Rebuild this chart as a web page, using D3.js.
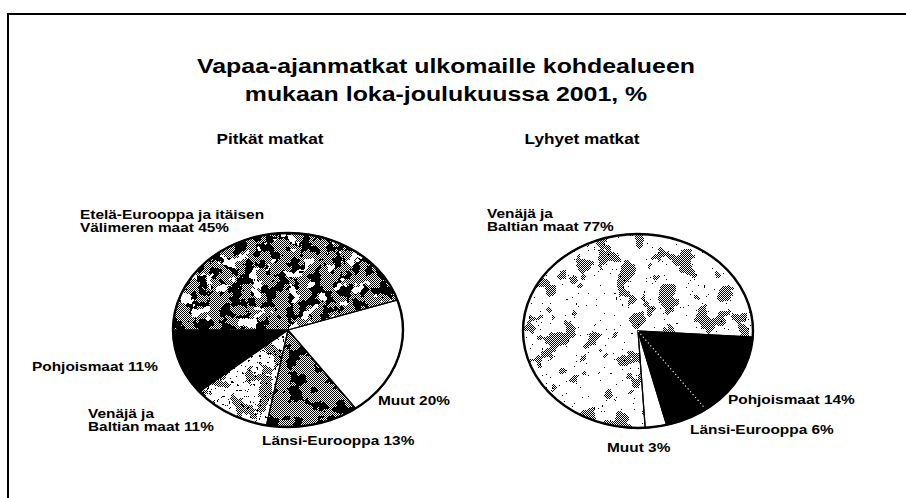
<!DOCTYPE html>
<html lang="fi">
<head>
<meta charset="UTF-8">
<title>Vapaa-ajanmatkat ulkomaille kohdealueen</title>
<script src="https://cdnjs.cloudflare.com/ajax/libs/d3/7.8.5/d3.min.js"></script>
<style>
  html, body { margin: 0; padding: 0; background: #fff; }
  svg { display: block; }
  text { font-family: "Liberation Sans", Arial, sans-serif; font-weight: bold; fill: #000; }
</style>
</head>
<body>
<div id="chart"></div>
<script>
const titleLines = ["Vapaa-ajanmatkat ulkomaille kohdealueen", "mukaan loka-joulukuussa 2001, %"];
const pieTitles = ["Pitkät matkat", "Lyhyet matkat"];

// pitkät matkat, clockwise from 9 o'clock
const longCategories = ["Etelä-Eurooppa ja itäisen\nVälimeren maat", "Muut", "Länsi-Eurooppa", "Venäjä ja\nBaltian maat", "Pohjoismaat"];
const longValues = [45, 20, 13, 11, 11];

// lyhyet matkat, clockwise from just below 3 o'clock
const shortCategories = ["Pohjoismaat", "Länsi-Eurooppa", "Muut", "Venäjä ja\nBaltian maat"];
const shortValues = [14, 6, 3, 77];

const W = 906, H = 498;
const SX = 1.186;          // the scan is stretched horizontally
const vx = x => x / SX;    // screen x -> x inside the stretched text group

const svg = d3.select("#chart").append("svg")
    .attr("width", W)
    .attr("height", H);

const defs = svg.append("defs");

// 50% halftone dots
const dots = defs.append("pattern")
    .attr("id", "dots")
    .attr("patternUnits", "userSpaceOnUse")
    .attr("width", 2).attr("height", 2);
dots.append("rect").attr("width", 2).attr("height", 2).attr("fill", "#fff");
dots.append("rect").attr("width", 1).attr("height", 1).attr("fill", "#000");
dots.append("rect").attr("x", 1).attr("y", 1).attr("width", 1).attr("height", 1).attr("fill", "#000");

// blotchy masks to imitate the scanned textures (pie-local coords)
const MB = { x: -125, y: -105, w: 250, h: 210 };
function noiseMask(id, freq, seed, cut) {
    const f = defs.append("filter")
        .attr("id", "f-" + id)
        .attr("filterUnits", "userSpaceOnUse")
        .attr("x", MB.x).attr("y", MB.y).attr("width", MB.w).attr("height", MB.h)
        .attr("color-interpolation-filters", "sRGB");
    f.append("feTurbulence")
        .attr("type", "fractalNoise")
        .attr("baseFrequency", freq)
        .attr("numOctaves", 3)
        .attr("seed", seed);
    f.append("feColorMatrix")
        .attr("type", "matrix")
        .attr("values", "1 0 0 0 0  1 0 0 0 0  1 0 0 0 0  0 0 0 0 1");
    const steps = d3.range(50).map(i => (i / 50 >= cut ? 1 : 0)).join(" ");
    const ct = f.append("feComponentTransfer");
    ["feFuncR", "feFuncG", "feFuncB"].forEach(n =>
        ct.append(n).attr("type", "discrete").attr("tableValues", steps));
    defs.append("mask")
        .attr("id", id)
        .attr("maskUnits", "userSpaceOnUse")
        .attr("x", MB.x).attr("y", MB.y).attr("width", MB.w).attr("height", MB.h)
        .append("rect")
        .attr("x", MB.x).attr("y", MB.y).attr("width", MB.w).attr("height", MB.h)
        .attr("filter", `url(#f-${id})`);
}
noiseMask("blobA", 0.09, 3, 0.54);
noiseMask("blobB", 0.08, 11, 0.64);
noiseMask("blobC", 0.07, 7, 0.56);
noiseMask("blobD", 0.07, 5, 0.55);
noiseMask("blobE", 0.05, 9, 0.58);
noiseMask("speck", 0.35, 2, 0.7);
noiseMask("speck2", 0.5, 4, 0.74);

const textures = {
    white:   [{ fill: "#fff" }],
    black:   [{ fill: "#000" }],
    mottled: [{ fill: "url(#dots)" }, { fill: "#000", mask: "blobA" }, { fill: "#fff", mask: "blobB" }],
    gray:    [{ fill: "url(#dots)" }, { fill: "#000", mask: "blobC" }],
    speckle: [{ fill: "#fff" }, { fill: "url(#dots)", mask: "blobD" }, { fill: "#000", mask: "speck" }],
    light:   [{ fill: "#fff" }, { fill: "url(#dots)", mask: "blobE" }, { fill: "#000", mask: "speck2" }]
};

// frame
svg.append("path")
    .attr("d", `M${W + 10},14 H8 V${H + 10}`)
    .attr("fill", "none")
    .attr("stroke", "#000")
    .attr("stroke-width", 2);

const pies = svg.append("g");
const g = svg.append("g").attr("transform", `scale(${SX},1)`);

g.selectAll(".title")
    .data(titleLines)
    .join("text")
    .attr("class", "title")
    .attr("x", vx(446))
    .attr("y", (d, i) => 73 + i * 28)
    .attr("text-anchor", "middle")
    .style("font-size", "21px")
    .text(d => d);

g.selectAll(".pie-title")
    .data(pieTitles)
    .join("text")
    .attr("class", "pie-title")
    .attr("x", (d, i) => vx([270, 582][i]))
    .attr("y", 144)
    .attr("text-anchor", "middle")
    .style("font-size", "14.5px")
    .text(d => d);

// elliptical slice from pie angles
function slicePath(a, rx, ry) {
    const p = t => [rx * Math.sin(t), -ry * Math.cos(t)];
    const [x0, y0] = p(a.startAngle), [x1, y1] = p(a.endAngle);
    const large = a.endAngle - a.startAngle > Math.PI ? 1 : 0;
    return `M0,0L${x0},${y0}A${rx},${ry} 0 ${large} 1 ${x1},${y1}Z`;
}

function drawPie(opts) {
    const { cx, cy, rx, ry, cats, vals, start, tex, labelPos, divider } = opts;
    const data = cats.map((c, i) => ({ cat: c, value: vals[i], tex: tex[i], pos: labelPos[i] }));
    const pie = d3.pie().sort(null).value(d => d.value)
        .startAngle(start).endAngle(start + 2 * Math.PI);
    const arcs = pie(data);

    const pg = pies.append("g").attr("transform", `translate(${cx},${cy})`);

    arcs.forEach(a => {
        textures[a.data.tex].forEach(layer => {
            pg.append("path")
                .attr("d", slicePath(a, rx, ry))
                .attr("fill", layer.fill)
                .attr("mask", layer.mask ? `url(#${layer.mask})` : null);
        });
    });

    pg.selectAll(".slice")
        .data(arcs)
        .join("path")
        .attr("class", "slice")
        .attr("d", a => slicePath(a, rx, ry))
        .attr("fill", "none")
        .attr("stroke", "#000")
        .attr("stroke-width", 1.2);

    if (divider != null) {
        const ang = arcs[divider].endAngle;
        pg.append("line")
            .attr("x1", 0).attr("y1", 0)
            .attr("x2", Math.sin(ang) * (rx - 3))
            .attr("y2", -Math.cos(ang) * (ry - 3))
            .attr("stroke", "#fff")
            .attr("stroke-width", 1.1)
            .attr("stroke-dasharray", "1.2 2.6");
    }

    pg.append("ellipse")
        .attr("rx", rx).attr("ry", ry)
        .attr("fill", "none")
        .attr("stroke", "#000")
        .attr("stroke-width", 2.4);

    data.forEach(d => {
        const lines = d.cat.split("\n");
        lines[lines.length - 1] += " " + d.value + "%";
        const t = g.append("text")
            .attr("x", vx(d.pos[0]))
            .attr("y", d.pos[1])
            .style("font-size", "13px");
        lines.forEach((l, i) => {
            t.append("tspan")
                .attr("x", vx(d.pos[0]))
                .attr("dy", i === 0 ? 0 : 13.5)
                .text(l);
        });
    });
}

drawPie({
    cx: 288, cy: 330, rx: 115, ry: 97,
    cats: longCategories, vals: longValues,
    start: -Math.PI / 2,
    tex: ["mottled", "white", "gray", "speckle", "black"],
    labelPos: [[80, 219], [378, 405], [262, 445], [88, 418], [32, 371]]
});

drawPie({
    cx: 638, cy: 331, rx: 115, ry: 97,
    cats: shortCategories, vals: shortValues,
    start: 93.6 * Math.PI / 180,
    tex: ["black", "black", "white", "light"],
    labelPos: [[728, 404], [690, 434], [607, 452], [487, 218]],
    divider: 0
});
</script>
</body>
</html>
